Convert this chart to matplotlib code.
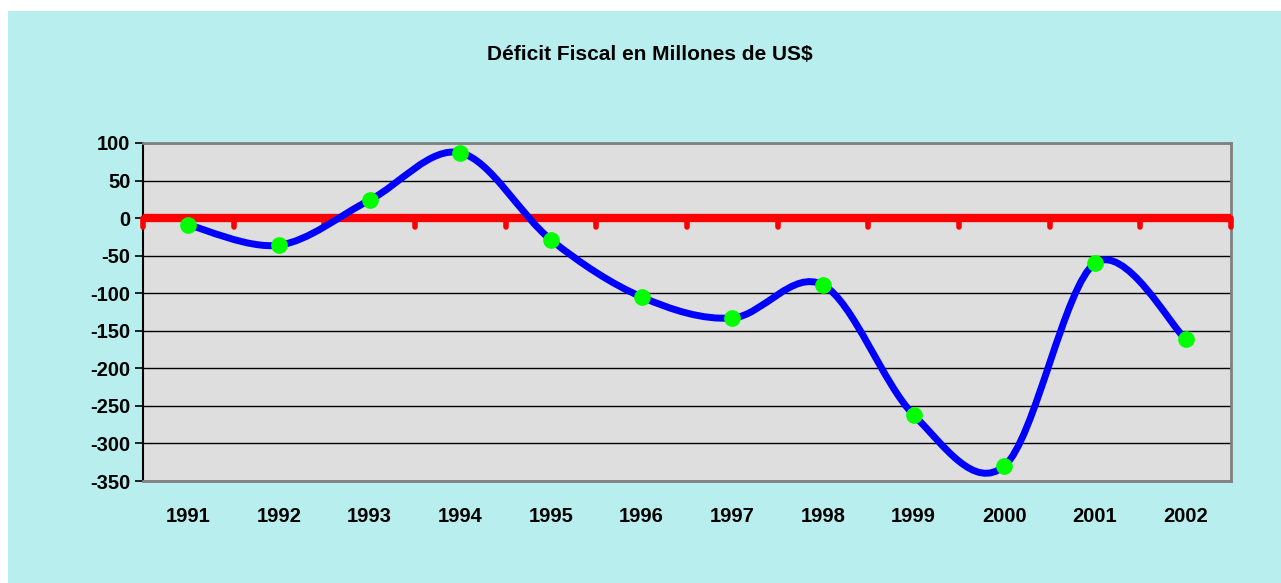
"""
Déficit fiscal en millones de US$, 1991-2002
"""
import matplotlib
matplotlib.use("Agg")
import matplotlib.pyplot as plt
from matplotlib.patches import Rectangle
from matplotlib.path import Path
from matplotlib.patches import PathPatch

years = ["1991", "1992", "1993", "1994", "1995", "1996",
         "1997", "1998", "1999", "2000", "2001", "2002"]
deficit = [-9, -36, 24, 87, -29, -105, -133, -89, -262, -330, -60, -161]
y_ticks = [100, 50, 0, -50, -100, -150, -200, -250, -300, -350]

plt.rcParams['font.family'] = ['Liberation Sans Narrow', 'Liberation Sans', 'DejaVu Sans']
plt.rcParams['font.weight'] = 'bold'


def smooth_path(xs, ys):
    """Excel-style smoothed line as cubic Bezier segments."""
    pts = list(zip(xs, ys))
    verts = [pts[0]]
    codes = [Path.MOVETO]
    n = len(pts)
    for i in range(n - 1):
        p0 = pts[i - 1] if i > 0 else pts[i]
        p1 = pts[i]
        p2 = pts[i + 1]
        p3 = pts[i + 2] if i + 2 < n else pts[i + 1]
        c1 = (p1[0] + (p2[0] - p0[0]) / 6, p1[1] + (p2[1] - p0[1]) / 6)
        c2 = (p2[0] - (p3[0] - p1[0]) / 6, p2[1] - (p3[1] - p1[1]) / 6)
        verts += [c1, c2, p2]
        codes += [Path.CURVE4] * 3
    return Path(verts, codes)


def plot_deficit():
    fig = plt.figure(figsize=(12.81, 5.83), dpi=100, facecolor='white')
    fig.patches.append(Rectangle((8 / 1281, 0), 1, 1 - 11 / 583,
                                 transform=fig.transFigure,
                                 facecolor='#B8EEEE', edgecolor='none',
                                 zorder=-1))
    ax = fig.add_axes([143 / 1281, 102 / 583, 1088 / 1281, 338 / 583])
    ax.set_facecolor('#DEDEDE')

    xs = list(range(len(years)))
    ax.set_xlim(-0.5, len(years) - 0.5)
    ax.set_ylim(-350, 100)
    ax.set_yticks(y_ticks)
    ax.set_yticklabels([str(v) for v in y_ticks])
    ax.set_xticks(xs)
    ax.set_xticklabels(years)
    ax.yaxis.grid(True, color='black', linewidth=1)
    ax.set_axisbelow(True)
    ax.tick_params(axis='x', length=0, pad=19, labelsize=14.5)
    ax.tick_params(axis='y', length=6, width=1.2, direction='out',
                   labelsize=14.5, pad=3)

    for side in ['top', 'right', 'bottom']:
        ax.spines[side].set_color('#808080')
        ax.spines[side].set_linewidth(2)
    ax.spines['left'].set_color('black')
    ax.spines['left'].set_linewidth(1.5)

    # red zero axis with category tick marks
    bounds = [x - 0.5 for x in xs] + [len(years) - 0.5]
    ax.vlines(bounds, -12, 0, color='red', linewidth=4, capstyle='round',
              zorder=3, clip_on=False)
    ax.axhline(0, color='red', linewidth=6, zorder=3)

    ax.add_patch(PathPatch(smooth_path(xs, deficit), facecolor='none',
                           edgecolor='#0000FF', linewidth=5, zorder=4,
                           capstyle='round', joinstyle='round'))
    ax.plot(xs, deficit, linestyle='none', marker='o', markersize=11,
            markerfacecolor='#00FF00', markeredgecolor='#00FF00', zorder=5)

    fig.text(650 / 1281, 1 - 54 / 583, 'Déficit Fiscal en Millones de US$',
             ha='center', va='center', fontsize=15, fontweight='bold')
    fig.savefig('out.png', dpi=100, facecolor=fig.get_facecolor())


def main():
    plot_deficit()


if __name__ == "__main__":
    main()
